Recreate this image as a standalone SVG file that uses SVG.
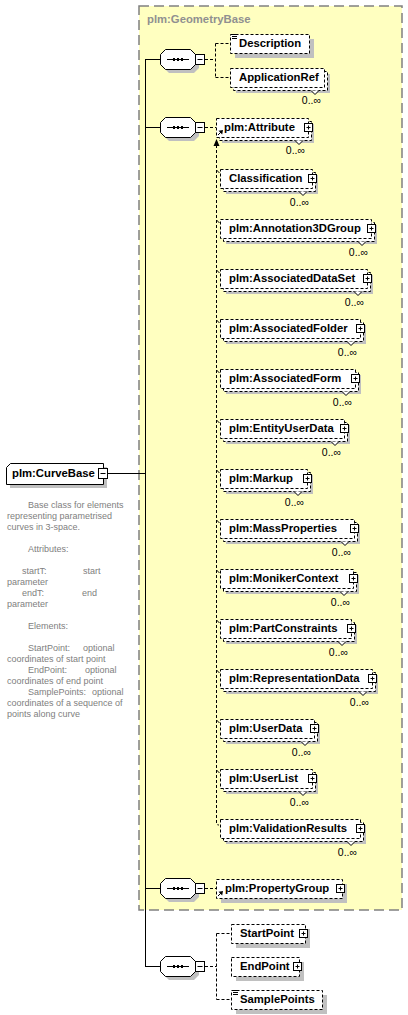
<svg xmlns="http://www.w3.org/2000/svg" xmlns:xlink="http://www.w3.org/1999/xlink" width="408" height="1015" viewBox="0 0 408 1015">
<style>
.lbl{font-family:"Liberation Sans",Arial,sans-serif;font-weight:bold;font-size:11.3px;fill:#000}
.card{font-family:"Liberation Sans",Arial,sans-serif;font-size:10.5px;fill:#000;text-anchor:end}
.doc{font-family:"Liberation Sans",Arial,sans-serif;font-size:9px;fill:#808080}
.grp{font-family:"Liberation Sans",Arial,sans-serif;font-weight:bold;font-size:11.3px;fill:#909090}
.sh{fill:#c0c0c0;stroke:none}
.box{fill:#fff;stroke:#000;stroke-dasharray:3 2}
.dl{fill:none;stroke:#000;stroke-dasharray:3 2}
.sl{fill:none;stroke:#000}
.v{fill:#fff;stroke:#000}
</style>
<defs>
<g id="plus"><rect x="-3.5" y="-3.5" width="8" height="8" fill="#fff" stroke="#000"/><path d="M-1.5,0.5H2.5M0.5,-1.5V2.5" stroke="#000"/></g>
<g id="seq">
<path class="sh" d="M9,4H34L39,9V19L34,24H9L4,19V9Z"/>
<path d="M5.5,0.5H30.5L35.5,5.5V15.5L30.5,20.5H5.5L0.5,15.5V5.5Z" fill="#fff" stroke="#000"/>
<path d="M7,10.5H29" stroke="#000"/>
<rect x="13" y="9" width="2" height="3" fill="#000"/><rect x="17" y="9" width="2" height="3" fill="#000"/><rect x="21" y="9" width="2" height="3" fill="#000"/>
<rect x="35.5" y="5.5" width="9" height="10" fill="#fff" stroke="#000"/>
<path d="M37.5,10.5H42.5" stroke="#000"/>
</g>
</defs>

<g id="group-GeometryBase">
<rect x="139" y="6" width="263" height="904" fill="#ffffc0" stroke="#808080" stroke-width="1.5" stroke-dasharray="10 5"/>
<text class="grp" x="147" y="23">plm:GeometryBase</text>
</g>

<g id="connectors">
<path class="sl" d="M145.5,59V967"/>
<path class="sl" d="M108,473.5H145.5"/>
<path class="sl" d="M145.5,59.5H160M145.5,127.5H160M145.5,888.5H160M145.5,966.5H160"/>
<path class="dl" d="M205,59.5H215.5M215.5,43.5V77.5M215.5,43.5H230M215.5,77.5H230"/>
<path class="dl" d="M205,127.5H216"/>
<path class="dl" d="M205,888.5H216"/>
<path class="dl" d="M205,966.5H216.5M216.5,933.5V999.5M216.5,933.5H231M216.5,999.5H231"/>
<path class="dl" d="M216.5,145V823Q216.5,825 219,825"/>
<polygon points="216.5,139 213.5,146 219.5,146" fill="#000"/>
<path class="sl" d="M216.5,170L219.5,173M216.5,220L219.5,223M216.5,270L219.5,273M216.5,320L219.5,323M216.5,370L219.5,373M216.5,420L219.5,423M216.5,470L219.5,473M216.5,520L219.5,523M216.5,570L219.5,573M216.5,620L219.5,623M216.5,670L219.5,673M216.5,720L219.5,723M216.5,770L219.5,773"/>
</g>

<g id="node-CurveBase">
<path class="sh" d="M14,467H107V488H10V471Z"/>
<path d="M10.5,463.5H103.5V484.5H6.5V467.5Z" fill="#fff" stroke="#000"/>
<text class="lbl" x="12" y="477">plm:CurveBase</text>
<rect x="98.5" y="468.5" width="9" height="10" fill="#fff" stroke="#000"/>
<path d="M100.5,473.5H105.5" stroke="#000"/>
</g>

<g id="doc-CurveBase" class="doc">
<text x="28" y="508">Base class for elements</text>
<text x="7" y="519">representing parametrised</text>
<text x="7" y="530">curves in 3-space.</text>
<text x="28" y="552">Attributes:</text>
<text x="22" y="574">startT:</text><text x="83" y="574">start</text>
<text x="7" y="585">parameter</text>
<text x="22" y="596">endT:</text><text x="82" y="596">end</text>
<text x="7" y="607">parameter</text>
<text x="28" y="629">Elements:</text>
<text x="28" y="651">StartPoint:</text><text x="83" y="651">optional</text>
<text x="7" y="662">coordinates of start point</text>
<text x="28" y="673">EndPoint:</text><text x="85" y="673">optional</text>
<text x="7" y="684">coordinates of end point</text>
<text x="28" y="695">SamplePoints:</text><text x="92" y="695">optional</text>
<text x="7" y="706">coordinates of a sequence of</text>
<text x="7" y="717">points along curve</text>
</g>

<g id="seq-1"><use href="#seq" x="160" y="49"/></g>
<g id="seq-2"><use href="#seq" x="160" y="117"/></g>
<g id="seq-3"><use href="#seq" x="160" y="878"/></g>
<g id="seq-4"><use href="#seq" x="160" y="956"/></g>

<g id="el-Description">
<rect class="sh" x="235" y="39" width="79" height="19"/>
<rect class="box" x="230.5" y="34.5" width="79" height="19"/>
<path d="M232,34.5H237M232,36.5H237M232,38.5H237" stroke="#000"/>
<text class="lbl" x="239" y="47">Description</text>
</g>

<g id="el-ApplicationRef">
<rect class="sh" x="236" y="74" width="94" height="19"/>
<rect class="box" x="233.5" y="71.5" width="94" height="19"/>
<rect class="box" x="230.5" y="68.5" width="94" height="19"/>
<text class="lbl" x="239" y="81">ApplicationRef</text>
<polyline class="v" points="311,90.5 315,94.5 319,90.5"/>
<text class="card" x="321" y="104">0..∞</text>
</g>

<g id="el-Attribute">
<rect class="sh" x="222" y="124" width="92" height="19"/>
<rect class="box" x="219.5" y="121.5" width="92" height="19"/>
<rect class="box" x="216.5" y="118.5" width="92" height="19"/>
<text class="lbl" x="224" y="131">plm:Attribute</text>
<use href="#plus" x="308" y="127"/>
<path d="M218,135L221.5,131.5" stroke="#000"/><polygon points="223,130 218.5,130.8 222.2,134.5" fill="#000"/>
<polyline class="v" points="295,140.5 299,144.5 303,140.5"/>
<text class="card" x="305" y="154">0..∞</text>
</g>

<g id="el-Classification">
<rect class="sh" x="226" y="175" width="92" height="19"/>
<rect class="box" x="223.5" y="172.5" width="92" height="19"/>
<rect class="box" x="220.5" y="169.5" width="92" height="19"/>
<text class="lbl" x="229" y="182">Classification</text>
<use href="#plus" x="312" y="178"/>
<polyline class="v" points="299,191.5 303,195.5 307,191.5"/>
<text class="card" x="309" y="206">0..∞</text>
</g>

<g id="el-Annotation3DGroup">
<rect class="sh" x="226" y="225" width="151" height="19"/>
<rect class="box" x="223.5" y="222.5" width="151" height="19"/>
<rect class="box" x="220.5" y="219.5" width="151" height="19"/>
<text class="lbl" x="229" y="232">plm:Annotation3DGroup</text>
<use href="#plus" x="371" y="228"/>
<polyline class="v" points="358,241.5 362,245.5 366,241.5"/>
<text class="card" x="368" y="256">0..∞</text>
</g>

<g id="el-AssociatedDataSet">
<rect class="sh" x="226" y="275" width="147" height="19"/>
<rect class="box" x="223.5" y="272.5" width="147" height="19"/>
<rect class="box" x="220.5" y="269.5" width="147" height="19"/>
<text class="lbl" x="229" y="282">plm:AssociatedDataSet</text>
<use href="#plus" x="367" y="278"/>
<polyline class="v" points="354,291.5 358,295.5 362,291.5"/>
<text class="card" x="364" y="306">0..∞</text>
</g>

<g id="el-AssociatedFolder">
<rect class="sh" x="226" y="325" width="140" height="19"/>
<rect class="box" x="223.5" y="322.5" width="140" height="19"/>
<rect class="box" x="220.5" y="319.5" width="140" height="19"/>
<text class="lbl" x="229" y="332">plm:AssociatedFolder</text>
<use href="#plus" x="360" y="328"/>
<polyline class="v" points="347,341.5 351,345.5 355,341.5"/>
<text class="card" x="357" y="356">0..∞</text>
</g>

<g id="el-AssociatedForm">
<rect class="sh" x="226" y="375" width="135" height="19"/>
<rect class="box" x="223.5" y="372.5" width="135" height="19"/>
<rect class="box" x="220.5" y="369.5" width="135" height="19"/>
<text class="lbl" x="229" y="382">plm:AssociatedForm</text>
<use href="#plus" x="355" y="378"/>
<polyline class="v" points="342,391.5 346,395.5 350,391.5"/>
<text class="card" x="352" y="406">0..∞</text>
</g>

<g id="el-EntityUserData">
<rect class="sh" x="226" y="425" width="124" height="19"/>
<rect class="box" x="223.5" y="422.5" width="124" height="19"/>
<rect class="box" x="220.5" y="419.5" width="124" height="19"/>
<text class="lbl" x="229" y="432">plm:EntityUserData</text>
<use href="#plus" x="344" y="428"/>
<polyline class="v" points="331,441.5 335,445.5 339,441.5"/>
<text class="card" x="341" y="456">0..∞</text>
</g>

<g id="el-Markup">
<rect class="sh" x="226" y="475" width="87" height="19"/>
<rect class="box" x="223.5" y="472.5" width="87" height="19"/>
<rect class="box" x="220.5" y="469.5" width="87" height="19"/>
<text class="lbl" x="229" y="482">plm:Markup</text>
<use href="#plus" x="307" y="478"/>
<polyline class="v" points="294,491.5 298,495.5 302,491.5"/>
<text class="card" x="304" y="506">0..∞</text>
</g>

<g id="el-MassProperties">
<rect class="sh" x="226" y="525" width="134" height="19"/>
<rect class="box" x="223.5" y="522.5" width="134" height="19"/>
<rect class="box" x="220.5" y="519.5" width="134" height="19"/>
<text class="lbl" x="229" y="532">plm:MassProperties</text>
<use href="#plus" x="354" y="528"/>
<polyline class="v" points="341,541.5 345,545.5 349,541.5"/>
<text class="card" x="351" y="556">0..∞</text>
</g>

<g id="el-MonikerContext">
<rect class="sh" x="226" y="575" width="133" height="19"/>
<rect class="box" x="223.5" y="572.5" width="133" height="19"/>
<rect class="box" x="220.5" y="569.5" width="133" height="19"/>
<text class="lbl" x="229" y="582">plm:MonikerContext</text>
<use href="#plus" x="353" y="578"/>
<polyline class="v" points="340,591.5 344,595.5 348,591.5"/>
<text class="card" x="350" y="606">0..∞</text>
</g>

<g id="el-PartConstraints">
<rect class="sh" x="226" y="625" width="131" height="19"/>
<rect class="box" x="223.5" y="622.5" width="131" height="19"/>
<rect class="box" x="220.5" y="619.5" width="131" height="19"/>
<text class="lbl" x="229" y="632">plm:PartConstraints</text>
<use href="#plus" x="351" y="628"/>
<polyline class="v" points="338,641.5 342,645.5 346,641.5"/>
<text class="card" x="348" y="656">0..∞</text>
</g>

<g id="el-RepresentationData">
<rect class="sh" x="226" y="675" width="152" height="19"/>
<rect class="box" x="223.5" y="672.5" width="152" height="19"/>
<rect class="box" x="220.5" y="669.5" width="152" height="19"/>
<text class="lbl" x="229" y="682">plm:RepresentationData</text>
<use href="#plus" x="372" y="678"/>
<polyline class="v" points="359,691.5 363,695.5 367,691.5"/>
<text class="card" x="369" y="706">0..∞</text>
</g>

<g id="el-UserData">
<rect class="sh" x="226" y="725" width="94" height="19"/>
<rect class="box" x="223.5" y="722.5" width="94" height="19"/>
<rect class="box" x="220.5" y="719.5" width="94" height="19"/>
<text class="lbl" x="229" y="732">plm:UserData</text>
<use href="#plus" x="314" y="728"/>
<polyline class="v" points="301,741.5 305,745.5 309,741.5"/>
<text class="card" x="311" y="756">0..∞</text>
</g>

<g id="el-UserList">
<rect class="sh" x="226" y="775" width="92" height="19"/>
<rect class="box" x="223.5" y="772.5" width="92" height="19"/>
<rect class="box" x="220.5" y="769.5" width="92" height="19"/>
<text class="lbl" x="229" y="782">plm:UserList</text>
<use href="#plus" x="312" y="778"/>
<polyline class="v" points="299,791.5 303,795.5 307,791.5"/>
<text class="card" x="309" y="806">0..∞</text>
</g>

<g id="el-ValidationResults">
<rect class="sh" x="226" y="825" width="140" height="19"/>
<rect class="box" x="223.5" y="822.5" width="140" height="19"/>
<rect class="box" x="220.5" y="819.5" width="140" height="19"/>
<text class="lbl" x="229" y="832">plm:ValidationResults</text>
<use href="#plus" x="360" y="828"/>
<polyline class="v" points="347,841.5 351,845.5 355,841.5"/>
<text class="card" x="357" y="856">0..∞</text>
</g>

<g id="el-PropertyGroup">
<rect class="sh" x="221" y="884" width="126" height="19"/>
<rect class="box" x="216.5" y="879.5" width="126" height="19"/>
<text class="lbl" x="225" y="892">plm:PropertyGroup</text>
<use href="#plus" x="340" y="888"/>
<path d="M218,896L221.5,892.5" stroke="#000"/><polygon points="223,891 218.5,891.8 222.2,895.5" fill="#000"/>
</g>

<g id="el-StartPoint">
<rect class="sh" x="236" y="929" width="74" height="19"/>
<rect class="box" x="231.5" y="924.5" width="74" height="19"/>
<text class="lbl" x="240" y="937">StartPoint</text>
<use href="#plus" x="303" y="933"/>
</g>

<g id="el-EndPoint">
<rect class="sh" x="236" y="962" width="68" height="19"/>
<rect class="box" x="231.5" y="957.5" width="68" height="19"/>
<text class="lbl" x="240" y="970">EndPoint</text>
<use href="#plus" x="297" y="966"/>
</g>

<g id="el-SamplePoints">
<rect class="sh" x="236" y="995" width="91" height="19"/>
<rect class="box" x="231.5" y="990.5" width="91" height="19"/>
<path d="M233,990.5H238M233,992.5H238M233,994.5H238" stroke="#000"/>
<text class="lbl" x="240" y="1003">SamplePoints</text>
</g>
</svg>
